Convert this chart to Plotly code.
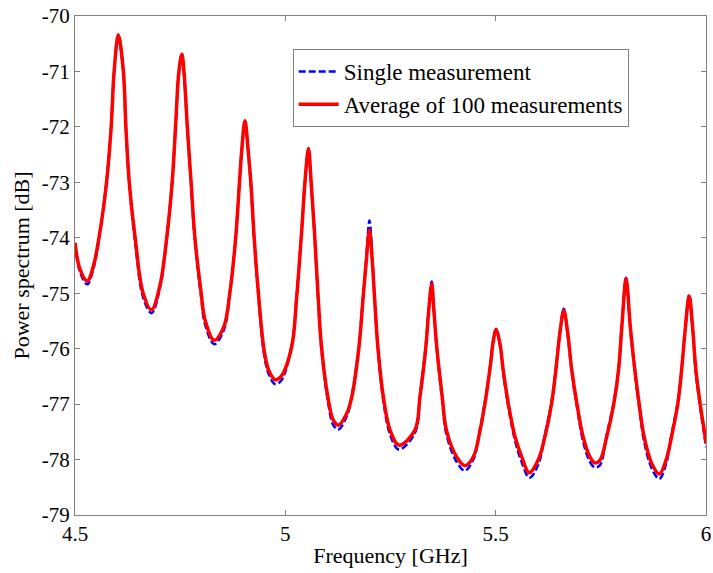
import plotly.graph_objects as go

freq = [4.500, 4.512, 4.529, 4.544, 4.557, 4.575, 4.586, 4.593, 4.603, 4.615, 4.621, 4.629, 4.643, 4.662,
        4.682, 4.702, 4.718, 4.731, 4.739, 4.747, 4.754, 4.759, 4.767, 4.776, 4.785, 4.800, 4.809,
        4.831, 4.854, 4.868, 4.882, 4.891, 4.896, 4.904, 4.912, 4.918, 4.926, 4.936, 4.949, 4.960,
        4.976, 4.990, 5.015, 5.027, 5.039, 5.047, 5.055, 5.061, 5.069, 5.078, 5.086, 5.101, 5.114,
        5.126, 5.146, 5.158, 5.175, 5.185, 5.192, 5.200, 5.207, 5.212, 5.220, 5.233, 5.249,
        5.270, 5.308, 5.320, 5.334, 5.341, 5.348, 5.353, 5.360, 5.373, 5.383, 5.407,
        5.427, 5.447, 5.463, 5.477, 5.488, 5.494, 5.501, 5.510, 5.518, 5.530, 5.546, 5.562,
        5.580, 5.601, 5.617, 5.633, 5.643, 5.653, 5.662, 5.671, 5.681, 5.693, 5.708, 5.724,
        5.736, 5.748, 5.764, 5.781, 5.792, 5.800, 5.810, 5.820, 5.831, 5.841, 5.853, 5.871,
        5.889, 5.905, 5.918, 5.933, 5.942, 5.951, 5.960, 5.968, 5.976, 5.986, 5.998, 6.000]

average_db = [-74.09, -74.57, -74.78, -74.50, -74.00, -73.00, -72.00, -71.00, -70.34, -71.00, -72.00, -73.00, -74.00, -75.00,
              -75.30, -74.86, -74.00, -73.00, -72.00, -71.00, -70.69, -71.00, -72.00, -73.00, -74.00, -75.00, -75.48,
              -75.85, -75.60, -75.00, -74.00, -73.00, -72.46, -71.89, -72.46, -73.00, -74.00, -75.00, -76.00, -76.38,
              -76.56, -76.50, -75.97, -75.07, -73.86, -72.96, -72.39, -72.96, -73.86, -75.07, -75.97, -76.87, -77.29,
              -77.38, -77.17, -76.87, -75.97, -75.07, -74.46, -73.86, -74.46, -75.07, -75.97, -76.87, -77.47,
              -77.74, -77.47, -76.87, -75.97, -75.30, -74.83, -75.30, -75.97, -76.87, -77.47, -77.95,
              -78.11, -77.95, -77.47, -76.87, -76.27, -75.88, -75.66, -75.90, -76.39, -76.99, -77.59, -77.95,
              -78.24, -78.01, -77.59, -76.99, -76.39, -75.70, -75.31, -75.70, -76.39, -76.99, -77.59, -77.95,
              -78.06, -78.01, -77.59, -76.99, -76.39, -75.60, -74.74, -75.60, -76.39, -76.99, -77.59, -78.07,
              -78.26, -78.01, -77.59, -76.99, -76.39, -75.62, -75.05, -75.60, -76.39, -76.99, -77.59, -77.71]

single_db = [-74.12, -74.62, -74.84, -74.55, -74.02, -72.98, -71.97, -71.02, -70.38, -71.03, -72.02, -73.04, -74.08, -75.08,
             -75.36, -74.90, -74.02, -72.98, -72.02, -71.03, -70.73, -71.03, -72.03, -73.05, -74.06, -75.08, -75.56,
             -75.92, -75.66, -74.98, -73.98, -72.98, -72.47, -71.92, -72.48, -73.04, -74.05, -75.06, -76.08, -76.45,
             -76.64, -76.58, -75.94, -75.04, -73.84, -72.97, -72.42, -72.99, -73.90, -75.12, -76.02, -76.94, -77.38,
             -77.46, -77.22, -76.84, -75.93, -75.02, -74.40, -73.69, -74.38, -75.05, -76.00, -76.94, -77.55,
             -77.82, -77.52, -76.84, -75.93, -75.26, -74.79, -75.28, -76.00, -76.94, -77.55, -78.04,
             -78.20, -78.00, -77.44, -76.83, -76.24, -75.86, -75.64, -75.92, -76.44, -77.05, -77.66, -78.05,
             -78.33, -78.10, -77.55, -76.95, -76.36, -75.67, -75.28, -75.73, -76.44, -77.04, -77.68, -78.04,
             -78.14, -78.10, -77.55, -76.95, -76.36, -75.58, -74.72, -75.63, -76.44, -77.05, -77.68, -78.16,
             -78.35, -78.08, -77.55, -76.95, -76.36, -75.60, -75.03, -75.63, -76.44, -77.05, -77.66, -77.78]

FONT = "Liberation Serif, Times New Roman, serif"

fig = go.Figure()
fig.add_trace(go.Scatter(x=freq, y=single_db, mode="lines", name="Single measurement",
                         line=dict(color="#0000FF", width=2.5, dash="7px,3px", shape="spline", smoothing=1.0)))
fig.add_trace(go.Scatter(x=freq, y=average_db, mode="lines", name="Average of 100 measurements",
                         line=dict(color="#FF0000", width=3.5, shape="spline", smoothing=1.0)))

axis_common = dict(showline=True, mirror="ticks", linecolor="#808080", linewidth=1,
                   ticks="inside", ticklen=5, tickcolor="#808080", showgrid=False, zeroline=False,
                   automargin=False,
                   tickfont=dict(family=FONT, size=21, color="black"))

fig.update_layout(
    width=713, height=573,
    margin=dict(l=75, r=7, t=16, b=58),
    paper_bgcolor="white", plot_bgcolor="white",
    font=dict(family=FONT, size=21, color="black"),
    xaxis=dict(range=[4.5, 6], tickvals=[4.5, 5, 5.5, 6], ticktext=["4.5", "5", "5.5", "6"],
               title=dict(text="Frequency [GHz]", font=dict(family=FONT, size=22), standoff=2),
               **axis_common),
    yaxis=dict(range=[-79, -70], tickvals=list(range(-79, -69)), ticktext=[str(v) for v in range(-79, -69)],
               title=dict(text="Power spectrum [dB]", font=dict(family=FONT, size=22), standoff=6),
               **axis_common),
    legend=dict(x=0.345, y=0.934, xanchor="left", yanchor="top", bordercolor="#808080", borderwidth=1,
                bgcolor="white", itemwidth=40, font=dict(family=FONT, size=23)),
    showlegend=True,
)

fig.write_html("out.html")
